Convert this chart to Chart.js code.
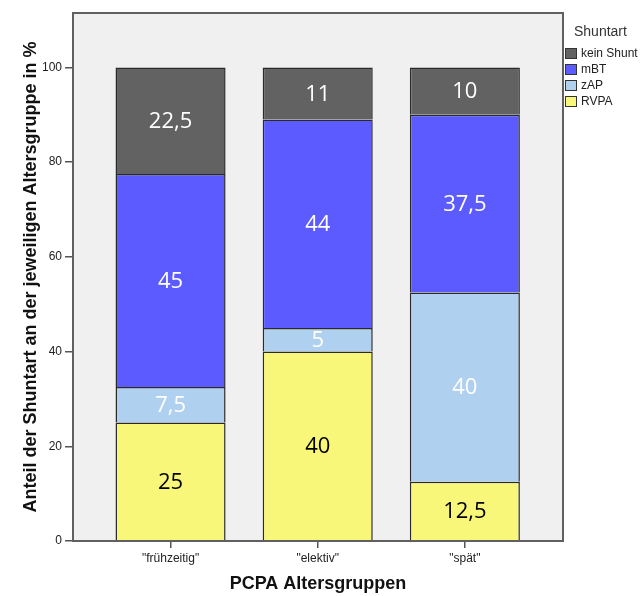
<!DOCTYPE html>
<html>
<head>
<meta charset="utf-8">
<script src="https://cdn.jsdelivr.net/npm/chart.js@4"></script>
<style>
  html, body { margin: 0; padding: 0; background: #fff; }
  #wrap { width: 640px; height: 596px; }
</style>
</head>
<body>
<div id="wrap"><canvas id="shuntChart"></canvas></div>
<script>
// Anteil der Shuntarten je PCPA-Altersgruppe (in %)
const groups = ['"frühzeitig"', '"elektiv"', '"spät"'];
const rvpa = [25, 40, 12.5];
const zap = [7.5, 5, 40];
const mbt = [45, 44, 37.5];
const keinShunt = [22.5, 11, 10];
const yTicks = [0, 20, 40, 60, 80, 100];

Chart.defaults.font.family = "'Liberation Sans', Arial, sans-serif";
Chart.defaults.color = '#222';

// groups sit at x = 1, 2, 3 on a linear axis so the outer margins can be set freely
function toPoints(values) {
  return values.map((v, i) => ({ x: i + 1, y: v }));
}

const series = [
  { label: 'RVPA', values: rvpa, color: '#f9f77a', text: '#000' },
  { label: 'zAP', values: zap, color: '#afd0ee', text: '#fff' },
  { label: 'mBT', values: mbt, color: '#5b5bff', text: '#fff' },
  { label: 'kein Shunt', values: keinShunt, color: '#626262', text: '#fff' }
];

const data = {
  datasets: series.map(s => ({
    label: s.label,
    data: toPoints(s.values),
    backgroundColor: s.color,
    borderColor: '#2a2a2a',
    borderWidth: 1.5,
    textColor: s.text
  }))
};

// grey plot background and frame
const plotFrame = {
  id: 'plotFrame',
  beforeDraw(chart) {
    const { ctx, chartArea: a } = chart;
    ctx.save();
    ctx.fillStyle = '#f0f0f0';
    ctx.fillRect(a.left, a.top, a.right - a.left, a.bottom - a.top);
    ctx.restore();
  },
  afterDraw(chart) {
    const { ctx, chartArea: a } = chart;
    ctx.save();
    ctx.strokeStyle = '#606060';
    ctx.lineWidth = 2;
    ctx.strokeRect(a.left, a.top, a.right - a.left, a.bottom - a.top);
    ctx.restore();
  }
};

// value written in the middle of each segment, decimal comma
const segmentLabels = {
  id: 'segmentLabels',
  afterDatasetsDraw(chart) {
    const ctx = chart.ctx;
    ctx.save();
    ctx.font = "22px 'Open Sans', sans-serif";
    ctx.textAlign = 'center';
    ctx.textBaseline = 'middle';
    chart.data.datasets.forEach((ds, i) => {
      chart.getDatasetMeta(i).data.forEach((bar, j) => {
        ctx.fillStyle = ds.textColor;
        const txt = String(ds.data[j].y).replace('.', ',');
        ctx.fillText(txt, bar.x, (bar.y + bar.base) / 2 + 1);
      });
    });
    ctx.restore();
  }
};

// legend to the right of the frame, top item = top segment
const sideLegend = {
  id: 'sideLegend',
  afterDraw(chart) {
    const ctx = chart.ctx;
    ctx.save();
    ctx.textBaseline = 'middle';
    ctx.textAlign = 'left';
    ctx.fillStyle = '#333';
    ctx.font = "14px 'Liberation Sans', Arial, sans-serif";
    ctx.fillText('Shuntart', 574, 32);
    ctx.font = "12px 'Liberation Sans', Arial, sans-serif";
    const items = chart.data.datasets.slice().reverse();
    items.forEach((ds, k) => {
      const y = 48 + k * 16;
      ctx.fillStyle = ds.backgroundColor;
      ctx.fillRect(565, y, 12, 11);
      ctx.strokeStyle = '#333';
      ctx.lineWidth = 1;
      ctx.strokeRect(565.5, y + 0.5, 11, 10);
      ctx.fillStyle = '#222';
      ctx.fillText(ds.label, 581, y + 6);
    });
    ctx.restore();
  }
};

const config = {
  type: 'bar',
  data,
  options: {
    responsive: true,
    maintainAspectRatio: false,
    animation: false,
    barPercentage: 0.748,
    categoryPercentage: 1,
    layout: { padding: { top: 13, right: 77, left: 0, bottom: 0 } },
    plugins: {
      legend: { display: false },
      tooltip: { enabled: false }
    },
    scales: {
      x: {
        type: 'linear',
        min: 0.337,
        max: 3.667,
        offset: false,
        stacked: true,
        afterBuildTicks: s => { s.ticks = groups.map((g, i) => ({ value: i + 1 })); },
        afterFit: s => { s.height = 55; },
        ticks: {
          autoSkip: false,
          maxRotation: 0,
          padding: 3,
          font: { size: 12 },
          color: '#222',
          callback: v => groups[v - 1]
        },
        grid: { offset: false, drawOnChartArea: false, drawTicks: true, tickLength: 7, color: '#555', lineWidth: 1.5 },
        border: { display: true, color: '#606060', width: 2 },
        title: {
          display: true,
          text: 'PCPA Altersgruppen',
          font: { size: 18, weight: 'bold' },
          color: '#111',
          padding: { top: 0, bottom: 1 }
        }
      },
      y: {
        min: 0,
        max: 111.5,
        stacked: true,
        afterBuildTicks: s => { s.ticks = yTicks.map(v => ({ value: v })); },
        afterFit: s => { s.width = 73; },
        ticks: { padding: 3, font: { size: 12 }, color: '#222' },
        grid: { drawOnChartArea: false, drawTicks: true, tickLength: 8, color: '#555', lineWidth: 1.5 },
        border: { display: true, color: '#606060', width: 2 },
        title: {
          display: true,
          text: 'Anteil der Shuntart an der jeweiligen Altersgruppe in %',
          font: { size: 18, weight: 'bold' },
          color: '#111',
          padding: { top: 20, bottom: 0 }
        }
      }
    }
  },
  plugins: [plotFrame, segmentLabels, sideLegend]
};

const shuntChart = new Chart(document.getElementById('shuntChart'), config);
</script>
</body>
</html>
